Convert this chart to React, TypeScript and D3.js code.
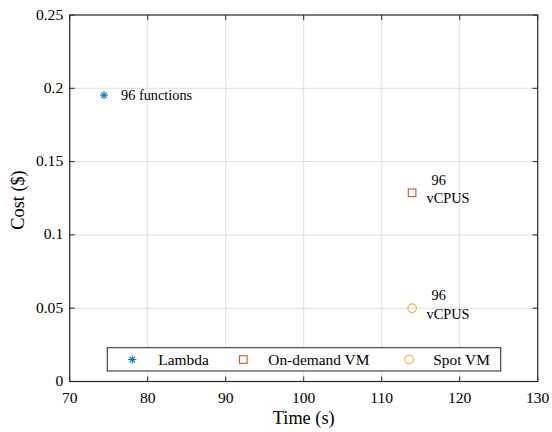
import React from "react";
import * as d3 from "d3";

const xTicks = [70, 80, 90, 100, 110, 120, 130];
const yTicks = [0, 0.05, 0.1, 0.15, 0.2, 0.25];
const yTickLabels = ["0", "0.05", "0.1", "0.15", "0.2", "0.25"];
const seriesNames = ["Lambda", "On-demand VM", "Spot VM"];
const seriesTime = [74.4, 113.9, 113.9];
const seriesCost = [0.1953, 0.1287, 0.05];
const seriesColors = ["#0072BD", "#D95319", "#EDB120"];
const pointLabels = [["96 functions"], ["96", "vCPUS"], ["96", "vCPUS"]];

const W = 552, H = 432;
const m = { left: 69.7, right: 537.7, top: 15, bottom: 381.5 };
const FONT = "Liberation Serif, Times New Roman, serif";

function Marker({ kind, x, y, color }: { kind: number; x: number; y: number; color: string }) {
  if (kind === 0) {
    const r = 4;
    const d = r * 0.7071;
    return (
      <g stroke={color} strokeWidth={1.1}>
        <line x1={x - r} y1={y} x2={x + r} y2={y} />
        <line x1={x} y1={y - r} x2={x} y2={y + r} />
        <line x1={x - d} y1={y - d} x2={x + d} y2={y + d} />
        <line x1={x - d} y1={y + d} x2={x + d} y2={y - d} />
      </g>
    );
  }
  if (kind === 1) {
    return <rect x={x - 3.8} y={y - 3.8} width={7.6} height={7.6} fill="none" stroke={color} strokeWidth={1.1} />;
  }
  return <circle cx={x} cy={y} r={4.3} fill="none" stroke={color} strokeWidth={1.1} />;
}

export default function App() {
  const x = d3.scaleLinear().domain([70, 130]).range([m.left, m.right]);
  const y = d3.scaleLinear().domain([0, 0.25]).range([m.bottom, m.top]);
  const axisColor = "#262626";
  const tl = 5;
  const ts = { fontFamily: FONT };
  return (
    <svg width={W} height={H} style={{ position: "absolute", left: 0, top: 0, fontFamily: FONT }}>
      <rect width={W} height={H} fill="#fff" />
      {xTicks.slice(1, -1).map((t) => (
        <line key={"gx" + t} x1={x(t)} x2={x(t)} y1={m.top} y2={m.bottom} stroke="#dfdfdf" strokeWidth={1} />
      ))}
      {yTicks.slice(1, -1).map((t) => (
        <line key={"gy" + t} x1={m.left} x2={m.right} y1={y(t)} y2={y(t)} stroke="#dfdfdf" strokeWidth={1} />
      ))}
      {xTicks.map((t) => (
        <g key={"tx" + t} stroke={axisColor} strokeWidth={1}>
          <line x1={x(t)} x2={x(t)} y1={m.bottom} y2={m.bottom - tl} />
          <line x1={x(t)} x2={x(t)} y1={m.top} y2={m.top + tl} />
        </g>
      ))}
      {yTicks.map((t) => (
        <g key={"ty" + t} stroke={axisColor} strokeWidth={1}>
          <line x1={m.left} x2={m.left + tl} y1={y(t)} y2={y(t)} />
          <line x1={m.right} x2={m.right - tl} y1={y(t)} y2={y(t)} />
        </g>
      ))}
      <rect x={m.left} y={m.top} width={m.right - m.left} height={m.bottom - m.top} fill="none" stroke={axisColor} strokeWidth={1.2} />
      {xTicks.map((t) => (
        <text key={"lx" + t} x={x(t)} y={m.bottom + 21.8} textAnchor="middle" fontSize={15.6} fill="#000" style={ts}>
          {t}
        </text>
      ))}
      {yTicks.map((t, i) => (
        <text key={"ly" + t} x={m.left - 6.5} y={y(t) + 4.5} textAnchor="end" fontSize={15.6} fill="#000" style={ts}>
          {yTickLabels[i]}
        </text>
      ))}
      <text x={(m.left + m.right) / 2} y={424} textAnchor="middle" fontSize={18.3} fill="#000" style={ts}>
        Time (s)
      </text>
      <text transform={`translate(24,200) rotate(-90)`} textAnchor="middle" fontSize={18.3} fill="#000" style={ts}>
        Cost ($)
      </text>
      {seriesNames.map((n, i) => (
        <Marker key={n} kind={i} x={x(seriesTime[i])} y={y(seriesCost[i])} color={seriesColors[i]} />
      ))}
      {pointLabels.map((lines, i) => {
        const px = x(seriesTime[i]);
        const py = y(seriesCost[i]);
        if (lines.length === 1) {
          return (
            <text key={"pl" + i} x={px + 17} y={py + 5} fontSize={14.3} fill="#000" style={ts}>
              {lines[0]}
            </text>
          );
        }
        return (
          <g key={"pl" + i} fontSize={14.3} fill="#000" style={ts}>
            <text x={px + 19.4} y={py - 8}>{lines[0]}</text>
            <text x={px + 14.4} y={py + 10.3}>{lines[1]}</text>
          </g>
        );
      })}
      <rect x={107.3} y={347.7} width={393.4} height={23.3} fill="#fff" stroke={axisColor} strokeWidth={1} />
      {seriesNames.map((n, i) => {
        const mx = [132.3, 243.3, 409][i];
        const tx = [158.3, 268.3, 433.3][i];
        return (
          <g key={"lg" + n}>
            <Marker kind={i} x={mx} y={359.5} color={seriesColors[i]} />
            <text x={tx} y={364.5} fontSize={15.4} fill="#000" style={ts}>{n}</text>
          </g>
        );
      })}
    </svg>
  );
}
